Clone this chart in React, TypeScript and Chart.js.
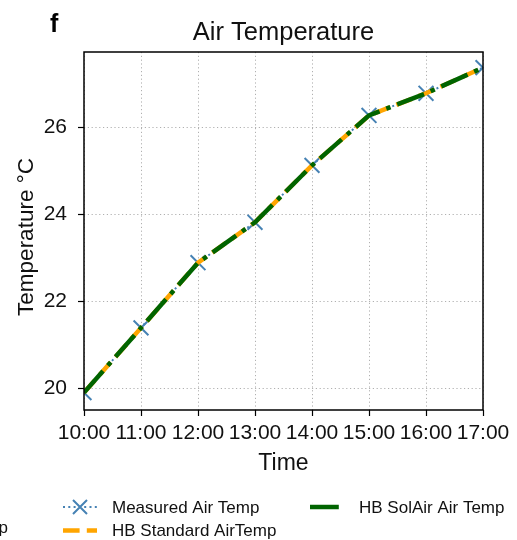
import { useEffect, useRef } from "react";
import { Chart, registerables } from "chart.js";

Chart.register(...registerables);

// Hourly readings, °C
const hours = ["10:00", "11:00", "12:00", "13:00", "14:00", "15:00", "16:00", "17:00"];
const measuredAirTemp = [19.9, 21.39, 22.89, 23.82, 25.13, 26.28, 26.79, 27.38];
const hbStandardAirTemp = [19.9, 21.39, 22.89, 23.82, 25.13, 26.28, 26.79, 27.38];
const hbSolAirAirTemp = [19.9, 21.39, 22.89, 23.82, 25.13, 26.28, 26.79, 27.38];

const yTickValues = [20, 22, 24, 26];
const yMin = 19.5;
const yMax = 27.74;

const FONT = '"Liberation Sans", Arial, Helvetica, sans-serif';
const TEXT = "#111111";
const BLUE = "#4682b4";
const ORANGE = "#ffa500";
const GREEN = "#006400";

// Panel letter, title, y label, frame and a matplotlib-style legend below the axes
const decorations = {
  id: "decorations",
  afterDraw(chart: Chart) {
    const { ctx, chartArea } = chart;
    const { left, right, top, bottom } = chartArea;
    ctx.save();

    // full box frame
    ctx.strokeStyle = "#000";
    ctx.lineWidth = 1.5;
    ctx.setLineDash([]);
    ctx.strokeRect(left, top, right - left, bottom - top);

    // panel letter
    ctx.fillStyle = "#000";
    ctx.textBaseline = "alphabetic";
    ctx.textAlign = "left";
    ctx.font = `bold 25px ${FONT}`;
    ctx.fillText("f", 50, 31.5);

    // title
    ctx.fillStyle = TEXT;
    ctx.textAlign = "center";
    ctx.font = `25.5px ${FONT}`;
    ctx.fillText("Air Temperature", (left + right) / 2, 39.5);

    // y axis label
    ctx.save();
    ctx.translate(27, 237);
    ctx.rotate(-Math.PI / 2);
    ctx.textBaseline = "middle";
    ctx.font = `22.5px ${FONT}`;
    ctx.fillText("Temperature °C", 0, 0);
    ctx.restore();

    // legend
    const ds = chart.data.datasets as any[];
    const entries = [
      { d: ds[0], x: 63, y: 507 },
      { d: ds[1], x: 63, y: 530.5 },
      { d: ds[2], x: 310, y: 507 },
    ];
    const handleLen = 34;
    ctx.font = `17px ${FONT}`;
    ctx.textAlign = "left";
    ctx.textBaseline = "middle";
    for (const e of entries) {
      const d = e.d;
      ctx.save();
      ctx.beginPath();
      ctx.rect(e.x, e.y - 10, handleLen, 20);
      ctx.clip();
      ctx.strokeStyle = d.borderColor;
      ctx.lineWidth = d.borderWidth;
      ctx.lineCap = "butt";
      ctx.setLineDash(d.borderDash || []);
      ctx.lineDashOffset = 0;
      ctx.beginPath();
      ctx.moveTo(e.x, e.y);
      ctx.lineTo(e.x + handleLen, e.y);
      ctx.stroke();
      ctx.restore();
      if (d.pointRadius > 0) {
        const cx = e.x + handleLen / 2;
        const r = 7;
        ctx.save();
        ctx.strokeStyle = d.pointBorderColor;
        ctx.lineWidth = d.pointBorderWidth;
        ctx.setLineDash([]);
        ctx.beginPath();
        ctx.moveTo(cx - r, e.y - r);
        ctx.lineTo(cx + r, e.y + r);
        ctx.moveTo(cx + r, e.y - r);
        ctx.lineTo(cx - r, e.y + r);
        ctx.stroke();
        ctx.restore();
      }
      ctx.fillStyle = TEXT;
      ctx.fillText(d.label, e.x + 49, e.y + 1);
    }

    // edge of the neighbouring panel's legend text
    ctx.textAlign = "right";
    ctx.textBaseline = "alphabetic";
    ctx.fillText("Temp", 8, 533);

    ctx.restore();
  },
};

export default function App() {
  const canvasRef = useRef<HTMLCanvasElement>(null);

  useEffect(() => {
    const canvas = canvasRef.current;
    if (!canvas) return;
    const chart = new Chart(canvas, {
      type: "line",
      data: {
        labels: hours,
        datasets: [
          {
            label: "Measured Air Temp",
            data: measuredAirTemp,
            borderColor: BLUE,
            borderWidth: 2,
            borderDash: [2, 3.3],
            pointStyle: "crossRot",
            pointRadius: 10.5,
            pointBorderColor: BLUE,
            pointBorderWidth: 2,
            pointBackgroundColor: BLUE,
            tension: 0,
            fill: false,
            clip: 0,
            order: 3,
          },
          {
            label: "HB Standard AirTemp",
            data: hbStandardAirTemp,
            borderColor: ORANGE,
            borderWidth: 4.5,
            borderDash: [16.6, 7.2],
            pointRadius: 0,
            tension: 0,
            fill: false,
            clip: 0,
            order: 2,
          },
          {
            label: "HB SolAir Air Temp",
            data: hbSolAirAirTemp,
            borderColor: GREEN,
            borderWidth: 4.5,
            borderDash: [28.8, 7.2, 4.5, 7.2],
            pointRadius: 0,
            tension: 0,
            fill: false,
            clip: 0,
            order: 1,
          },
        ] as any,
      },
      options: {
        responsive: false,
        animation: false,
        devicePixelRatio: 1,
        events: [],
        layout: { padding: { left: 0, right: 34, top: 52, bottom: 60 } },
        plugins: {
          legend: { display: false },
          title: { display: false },
          tooltip: { enabled: false },
        },
        scales: {
          x: {
            type: "category",
            offset: false,
            afterFit: (s: any) => {
              s.height = 70;
            },
            grid: {
              offset: false,
              color: "#b0b0b0",
              lineWidth: 1,
              drawTicks: true,
              tickLength: 6,
              tickColor: "#000",
              tickWidth: 1.2,
              tickBorderDash: [],
            },
            border: { display: false, dash: [1.2, 2.6] },
            ticks: {
              color: TEXT,
              font: { family: FONT, size: 21 },
              padding: 5,
              maxRotation: 0,
              minRotation: 0,
              autoSkip: false,
            },
            title: {
              display: true,
              text: "Time",
              color: TEXT,
              font: { family: FONT, size: 23 },
              padding: { top: 0, bottom: 3 },
            },
          },
          y: {
            type: "linear",
            min: yMin,
            max: yMax,
            afterFit: (s: any) => {
              s.width = 84;
            },
            afterBuildTicks: (s: any) => {
              s.ticks = yTickValues.map((v) => ({ value: v }));
            },
            grid: {
              color: "#b0b0b0",
              lineWidth: 1,
              drawTicks: true,
              tickLength: 6,
              tickColor: "#000",
              tickWidth: 1.2,
              tickBorderDash: [],
            },
            border: { display: false, dash: [1.2, 2.6] },
            ticks: {
              color: TEXT,
              font: { family: FONT, size: 21 },
              padding: 11,
              callback: (v: any) => String(v),
            },
            title: { display: false },
          },
        },
      } as any,
      plugins: [decorations],
    });
    return () => chart.destroy();
  }, []);

  return (
    <div
      style={{
        position: "absolute",
        left: 0,
        top: 0,
        width: 517,
        height: 540,
        background: "#ffffff",
      }}
    >
      <canvas
        ref={canvasRef}
        width={517}
        height={540}
        style={{ display: "block", width: 517, height: 540 }}
      />
    </div>
  );
}
